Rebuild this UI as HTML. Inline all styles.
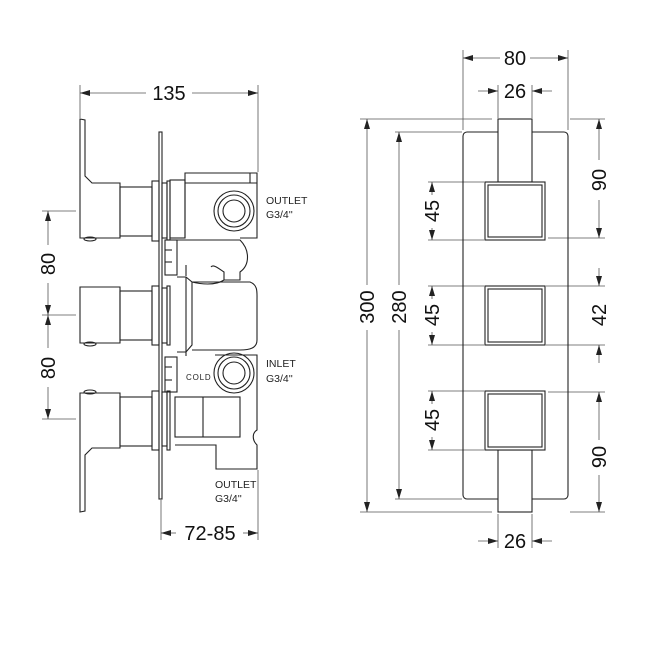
<!DOCTYPE html>
<html><head><style>html,body{margin:0;padding:0;background:#fff}svg{display:block}</style></head><body>
<svg width="650" height="650" viewBox="0 0 650 650" xmlns="http://www.w3.org/2000/svg" font-family="Liberation Sans, sans-serif">
<defs>
<marker id="a" viewBox="0 0 10 6" refX="10" refY="3" markerWidth="10" markerHeight="6" orient="auto-start-reverse" markerUnits="userSpaceOnUse"><path d="M0,0 L10,3 L0,6 z" fill="#222"/></marker>
</defs>
<g stroke="#555" stroke-width="0.8" fill="none">
<line x1="80" y1="85" x2="80" y2="118"/><line x1="258" y1="85" x2="258" y2="172"/>
<line x1="80" y1="93" x2="146" y2="93" marker-start="url(#a)"/><line x1="192" y1="93" x2="258" y2="93" marker-end="url(#a)"/>
<line x1="42" y1="211" x2="76" y2="211"/><line x1="42" y1="315" x2="76" y2="315"/><line x1="42" y1="419" x2="76" y2="419"/>
<line x1="48" y1="211" x2="48" y2="245" marker-start="url(#a)"/><line x1="48" y1="283" x2="48" y2="315" marker-end="url(#a)"/>
<line x1="48" y1="315" x2="48" y2="348" marker-start="url(#a)"/><line x1="48" y1="387" x2="48" y2="419" marker-end="url(#a)"/>
<line x1="161" y1="500" x2="161" y2="540"/><line x1="258" y1="470" x2="258" y2="540"/>
<line x1="161" y1="533" x2="176" y2="533" marker-start="url(#a)"/><line x1="243" y1="533" x2="258" y2="533" marker-end="url(#a)"/>
</g>
<g stroke="#222" stroke-width="1.1" fill="none">
<path d="M80,119 L85,120 L85,176 L92,183 L120,183 L120,238 L80,238 Z"/>
<path d="M80,287 L120,287 L120,343 L80,343 Z"/>
<path d="M80,393 L120,393 L120,448 L92,448 L85,455 L85,511 L80,512 Z"/>
<ellipse cx="90" cy="239" rx="6" ry="2"/><ellipse cx="90" cy="344" rx="6" ry="2"/><ellipse cx="90" cy="392" rx="6" ry="2"/>
<rect x="120" y="187" width="32" height="49"/><rect x="120" y="291" width="32" height="49"/><rect x="120" y="397" width="32" height="49"/>
<rect x="152" y="181" width="7" height="60"/><rect x="152" y="286" width="7" height="59"/><rect x="152" y="391" width="7" height="59"/>
<rect x="159" y="132" width="3" height="367"/>
<rect x="162" y="183" width="5" height="55"/><rect x="162" y="288" width="5" height="55"/><rect x="162" y="392" width="5" height="54"/>
<rect x="167" y="181" width="3" height="59"/><rect x="167" y="286" width="3" height="59"/><rect x="167" y="391" width="3" height="59"/>
<rect x="165" y="240" width="12" height="35"/><rect x="165" y="357" width="12" height="35"/>
<line x1="165" y1="250" x2="172" y2="250"/><line x1="165" y1="262" x2="172" y2="262"/><line x1="165" y1="367" x2="172" y2="367"/><line x1="165" y1="380" x2="172" y2="380"/>
<rect x="170" y="180" width="15" height="58"/>
<path d="M185,238 L185,173 L257,173 L257,238 L240,238"/>
<line x1="250" y1="173" x2="250" y2="183"/><line x1="185" y1="183" x2="257" y2="183"/>
<path d="M177,240 L240,240 C250,250 250,265 240,272 L240,280 L224,280 L224,272 C218,268 213,264 211,267 M224,280 C215,286 200,284 192,282"/>
<line x1="186" y1="265" x2="186" y2="276"/>
<path d="M177,277 L186,277 L192,282 L192,345 L186,352 L177,352 M192,282 L250,282 C258,285 257,292 257,300 L257,340 C257,348 250,350 240,350 L192,350"/>
<line x1="186" y1="277" x2="186" y2="352"/>
<path d="M186,352 L186,356 M215,355 L257,355 L257,430 C252,433 252,440 257,445 L257,469 L216,469 L216,445 L190,445 L175,445"/>
<rect x="175" y="397" width="65" height="40"/><line x1="203" y1="397" x2="203" y2="437"/>
<circle cx="234" cy="211" r="20"/><circle cx="234" cy="211" r="16"/><circle cx="234" cy="211" r="11"/>
<circle cx="234" cy="373" r="20"/><circle cx="234" cy="373" r="16"/><circle cx="234" cy="373" r="11"/>
</g>
<g fill="#222" font-size="10.5">
<text x="266" y="204">OUTLET</text><text x="266" y="218">G3/4''</text>
<text x="266" y="367">INLET</text><text x="266" y="382">G3/4''</text>
<text x="215" y="488">OUTLET</text><text x="215" y="502">G3/4''</text>
<text x="186" y="380" font-size="8" letter-spacing="0.8">COLD</text>
</g>
<g fill="#111" font-size="20" text-anchor="middle">
<text x="169" y="100">135</text>
<text x="210" y="540">72-85</text>
<text transform="translate(55,264) rotate(-90)">80</text>
<text transform="translate(55,368) rotate(-90)">80</text>
</g>

<g stroke="#555" stroke-width="0.8" fill="none">
<line x1="463" y1="50" x2="463" y2="130"/><line x1="568" y1="50" x2="568" y2="130"/>
<line x1="463" y1="58" x2="500" y2="58" marker-start="url(#a)"/><line x1="530" y1="58" x2="568" y2="58" marker-end="url(#a)"/>
<line x1="498" y1="85" x2="498" y2="118"/><line x1="532" y1="85" x2="532" y2="118"/>
<line x1="478" y1="91" x2="498" y2="91" marker-end="url(#a)"/><line x1="552" y1="91" x2="532" y2="91" marker-end="url(#a)"/>
<line x1="498" y1="514" x2="498" y2="548"/><line x1="532" y1="514" x2="532" y2="548"/>
<line x1="478" y1="541" x2="498" y2="541" marker-end="url(#a)"/><line x1="552" y1="541" x2="532" y2="541" marker-end="url(#a)"/>
<line x1="360" y1="119" x2="492" y2="119"/><line x1="360" y1="512" x2="492" y2="512"/>
<line x1="367" y1="119" x2="367" y2="285" marker-start="url(#a)"/><line x1="367" y1="330" x2="367" y2="512" marker-end="url(#a)"/>
<line x1="395" y1="132" x2="462" y2="132"/><line x1="395" y1="499" x2="462" y2="499"/>
<line x1="399" y1="132" x2="399" y2="285" marker-start="url(#a)"/><line x1="399" y1="330" x2="399" y2="499" marker-end="url(#a)"/>
<line x1="428" y1="182" x2="484" y2="182"/><line x1="428" y1="240" x2="484" y2="240"/>
<line x1="428" y1="286" x2="484" y2="286"/><line x1="428" y1="345" x2="484" y2="345"/>
<line x1="428" y1="391" x2="484" y2="391"/><line x1="428" y1="450" x2="484" y2="450"/>
<line x1="432" y1="182" x2="432" y2="195" marker-start="url(#a)"/><line x1="432" y1="228" x2="432" y2="240" marker-end="url(#a)"/>
<line x1="432" y1="286" x2="432" y2="299" marker-start="url(#a)"/><line x1="432" y1="332" x2="432" y2="345" marker-end="url(#a)"/>
<line x1="432" y1="391" x2="432" y2="404" marker-start="url(#a)"/><line x1="432" y1="437" x2="432" y2="450" marker-end="url(#a)"/>
<line x1="570" y1="119" x2="605" y2="119"/><line x1="548" y1="238" x2="605" y2="238"/>
<line x1="599" y1="119" x2="599" y2="160" marker-start="url(#a)"/><line x1="599" y1="200" x2="599" y2="238" marker-end="url(#a)"/>
<line x1="546" y1="286" x2="605" y2="286"/><line x1="546" y1="345" x2="605" y2="345"/>
<line x1="599" y1="268" x2="599" y2="286" marker-end="url(#a)"/><line x1="599" y1="363" x2="599" y2="345" marker-end="url(#a)"/>
<line x1="548" y1="392" x2="605" y2="392"/><line x1="570" y1="512" x2="605" y2="512"/>
<line x1="599" y1="392" x2="599" y2="440" marker-start="url(#a)"/><line x1="599" y1="475" x2="599" y2="512" marker-end="url(#a)"/>
</g>
<g stroke="#222" stroke-width="1.1" fill="none">
<rect x="463" y="132" width="105" height="367" rx="4"/>
<rect x="498" y="119" width="34" height="63" fill="#fff"/>
<rect x="498" y="450" width="34" height="62" fill="#fff"/>
<rect x="485" y="182" width="60" height="58" fill="#fff"/><rect x="488" y="185" width="54" height="52"/>
<rect x="485" y="286" width="60" height="59"/><rect x="488" y="289" width="54" height="53"/>
<rect x="485" y="391" width="60" height="59" fill="#fff"/><rect x="488" y="394" width="54" height="53"/>
</g>
<g fill="#111" font-size="20" text-anchor="middle">
<text x="515" y="65">80</text>
<text x="515" y="98">26</text>
<text x="515" y="548">26</text>
<text transform="translate(374,307) rotate(-90)">300</text>
<text transform="translate(406,307) rotate(-90)">280</text>
<text transform="translate(439,211) rotate(-90)">45</text>
<text transform="translate(439,315) rotate(-90)">45</text>
<text transform="translate(439,420) rotate(-90)">45</text>
<text transform="translate(606,180) rotate(-90)">90</text>
<text transform="translate(606,315) rotate(-90)">42</text>
<text transform="translate(606,457) rotate(-90)">90</text>
</g>
</svg>
</body></html>
